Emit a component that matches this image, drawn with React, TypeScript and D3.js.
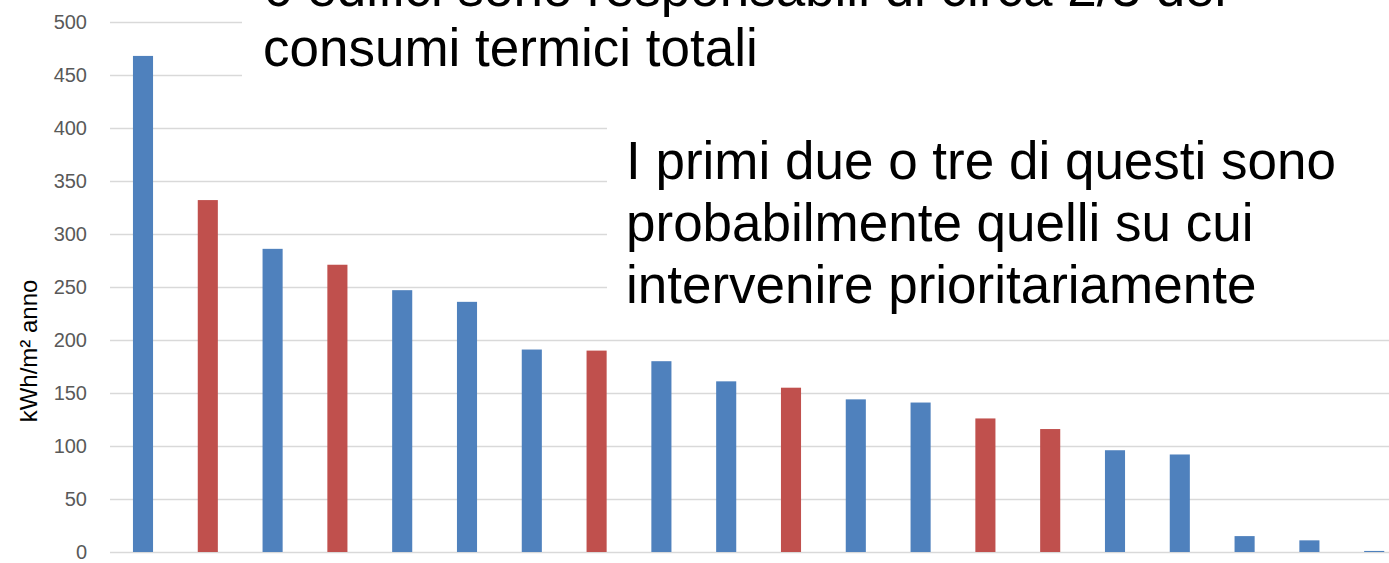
import React from "react";
import * as d3 from "d3";

const categories = ["E1","E2","E3","E4","E5","E6","E7","E8","E9","E10","E11","E12","E13","E14","E15","E16","E17","E18","E19","E20"];
const values = [468, 332, 286, 271, 247, 236, 191, 190, 180, 161, 155, 144, 141, 126, 116, 96, 92, 15, 11, 1];
const groups = ["A","B","A","B","A","A","A","B","A","A","B","A","A","B","B","A","A","A","A","A"];
const yTicks = [0, 50, 100, 150, 200, 250, 300, 350, 400, 450, 500];
const yLabel = "kWh/m² anno";
const note1 = ["6 edifici sono responsabili di circa 2/3 dei", "consumi termici totali"];
const note2 = ["I primi due o tre di questi sono", "probabilmente quelli su cui", "intervenire prioritariamente"];

const W = 1389;
const H = 563;

export default function App() {
  const x = d3.scaleBand<string>().domain(categories).range([110.6, 1406.6]).paddingInner(0.69).paddingOuter(0.345);
  const y = d3.scaleLinear().domain([0, 500]).range([552, 22]);
  const color = d3.scaleOrdinal<string, string>().domain(["A", "B"]).range(["#4F81BD", "#C0504D"]);
  const font = "'Liberation Sans', Arial, sans-serif";

  return (
    <svg width={W} height={H} style={{ position: "absolute", left: 0, top: 0, background: "#fff" }} fontFamily={font}>
      <rect x={0} y={0} width={W} height={H} fill="#fff" />
      {yTicks.map((t) => (
        <line key={"g" + t} x1={110} x2={W} y1={Math.round(y(t)) + 0.5} y2={Math.round(y(t)) + 0.5} stroke="#d9d9d9" strokeWidth={1.5} />
      ))}
      {yTicks.map((t) => (
        <text key={"t" + t} x={87} y={y(t)} dy="0.36em" textAnchor="end" fontSize={20} fill="#595959">
          {t}
        </text>
      ))}
      <text transform={`translate(37, 351) rotate(-90)`} textAnchor="middle" fontSize={24} fill="#000">
        {yLabel}
      </text>
      {categories.map((c, i) => (
        <rect
          key={c}
          x={x(c)}
          y={y(values[i])}
          width={x.bandwidth()}
          height={y(0) - y(values[i])}
          fill={color(groups[i])}
        />
      ))}
      <rect x={242} y={0} width={W - 242} height={100} fill="#fff" />
      <rect x={607} y={100} width={W - 607} height={220} fill="#fff" />
      {note1.map((s, i) => (
        <text key={"n1" + i} x={263} y={6 + i * 60} fontSize={53} fill="#000">
          {s}
        </text>
      ))}
      {note2.map((s, i) => (
        <text key={"n2" + i} x={626} y={179 + i * 62} fontSize={53} fill="#000">
          {s}
        </text>
      ))}
    </svg>
  );
}
